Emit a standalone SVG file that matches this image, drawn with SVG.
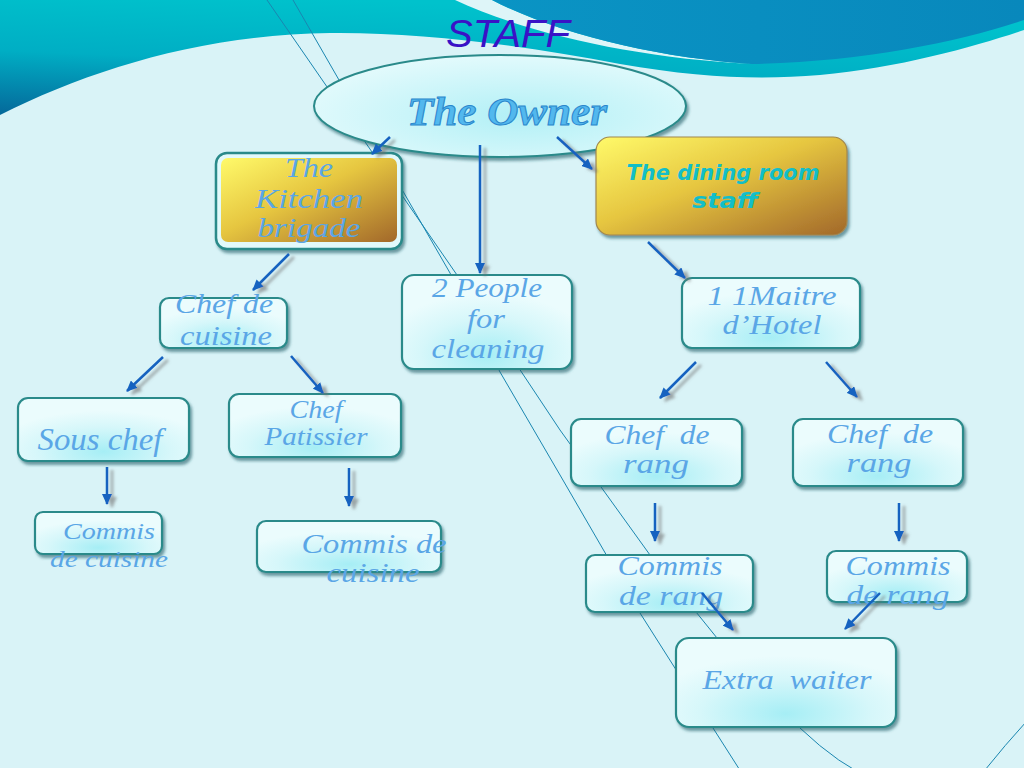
<svg xmlns="http://www.w3.org/2000/svg" width="1024" height="768" viewBox="0 0 1024 768">
<defs>
<linearGradient id="teal" x1="0" y1="1" x2="0.35" y2="0">
<stop offset="0" stop-color="#05689a"/><stop offset="0.5" stop-color="#00aec4"/><stop offset="1" stop-color="#00c2cc"/>
</linearGradient>
<linearGradient id="blue" x1="0" y1="0" x2="1" y2="0">
<stop offset="0" stop-color="#0a94c4"/><stop offset="1" stop-color="#0888bc"/>
</linearGradient>
<linearGradient id="gold" x1="0" y1="0" x2="1" y2="1">
<stop offset="0" stop-color="#fffa6a"/><stop offset="0.45" stop-color="#e6c640"/><stop offset="1" stop-color="#a2682a"/>
</linearGradient>
<radialGradient id="cyan" cx="0.5" cy="0.85" r="0.65">
<stop offset="0" stop-color="#a6eef5"/><stop offset="0.6" stop-color="#d6f7fa"/><stop offset="1" stop-color="#ebfcfd"/>
</radialGradient>
<radialGradient id="ell" cx="0.55" cy="0.6" r="0.6">
<stop offset="0" stop-color="#b2f0f6"/><stop offset="1" stop-color="#e2fafc"/>
</radialGradient>
<filter id="sh" x="-10%" y="-10%" width="130%" height="140%">
<feDropShadow dx="2" dy="3" stdDeviation="1.6" flood-color="#1a5c66" flood-opacity="0.6"/>
</filter>
<filter id="ash" x="-50%" y="-50%" width="200%" height="200%">
<feDropShadow dx="5" dy="3" stdDeviation="1.8" flood-color="#707070" flood-opacity="0.6"/>
</filter>
<marker id="ah" markerUnits="userSpaceOnUse" markerWidth="12" markerHeight="10" refX="10" refY="5" orient="auto">
<path d="M0,0 L11,5 L0,10 Z" fill="#1462c0"/>
</marker>
<style>
.box{fill:url(#cyan);stroke:#2a8a8a;stroke-width:2.2;filter:url(#sh)}
.t{font-family:"Liberation Serif","DejaVu Serif",serif;font-style:italic;fill:#5aa6e6;text-anchor:middle}
.c{stroke:#1462c0;stroke-width:2.5;fill:none;marker-end:url(#ah)}
.thin{stroke:#1a86b0;stroke-width:1;fill:none}
</style>
</defs>
<rect width="1024" height="768" fill="#d9f3f7"/>
<path d="M0,115 C90,70 200,35 330,33 C420,32 520,45 620,64 C700,78 760,80 820,75 C900,68 980,45 1024,30 V0 H0 Z" fill="url(#teal)"/>
<path d="M455,0 C530,35 640,58 752,64 C660,58 560,35 492,0 Z" fill="#def5f8"/>
<path d="M492,0 C560,35 660,58 752,64 C860,62 960,42 1024,20 V0 Z" fill="url(#blue)"/>
<path class="thin" d="M267,0 L457,275 L560,430 L650,555 L717,638 Q760,690 800,728 T875,780"/>
<path class="thin" d="M293,0 L450,273 L500,372 L560,475 L640,613 L713,728 L743,775"/>
<path class="thin" d="M985,770 Q1005,745 1026,722"/>
<text x="508" y="47" font-family="Liberation Sans, Arial, sans-serif" font-style="italic" font-size="38" fill="#3a12c6" text-anchor="middle" textLength="124" lengthAdjust="spacingAndGlyphs">STAFF</text>

<g id="owner">
<ellipse cx="500" cy="106" rx="186" ry="51" fill="url(#ell)" stroke="#2a8a8a" stroke-width="2" filter="url(#sh)"/>
<text x="507" y="125" font-family="Liberation Serif, serif" font-style="italic" font-weight="bold" font-size="40" fill="#52b8ee" stroke="#2a86cc" stroke-width="1" text-anchor="middle" textLength="200" lengthAdjust="spacingAndGlyphs">The Owner</text>
</g>
<g id="kitchen">
<rect x="216" y="153" width="186" height="96" rx="11" fill="#e2f9fb" stroke="#2a8a8a" stroke-width="2.5" filter="url(#sh)"/>
<rect x="221" y="158" width="176" height="84" rx="7" fill="url(#gold)"/>
<text class="t" x="309" y="177" font-size="27" textLength="48" lengthAdjust="spacingAndGlyphs">The</text>
<text class="t" x="309" y="208" font-size="27" textLength="108" lengthAdjust="spacingAndGlyphs">Kitchen</text>
<text class="t" x="309" y="237" font-size="27" textLength="103" lengthAdjust="spacingAndGlyphs">brigade</text>
</g>
<g id="dining">
<rect x="596" y="137" width="251" height="98" rx="14" fill="url(#gold)" stroke="#a08850" stroke-width="1.2" filter="url(#sh)"/>
<text x="723" y="180" font-family="DejaVu Sans, sans-serif" font-style="oblique" font-weight="bold" font-size="22" fill="#12bec8" text-anchor="middle" textLength="193" lengthAdjust="spacingAndGlyphs">The dining room</text>
<text x="725" y="208" font-family="DejaVu Sans, sans-serif" font-style="oblique" font-weight="bold" font-size="22" fill="#12bec8" text-anchor="middle" textLength="66" lengthAdjust="spacingAndGlyphs">staff</text>
</g>
<g id="chefcuisine">
<rect class="box" x="160" y="298" width="127" height="50" rx="9"/>
<text class="t" x="224" y="313" font-size="28" textLength="98" lengthAdjust="spacingAndGlyphs">Chef de</text>
<text class="t" x="226" y="345" font-size="28" textLength="92" lengthAdjust="spacingAndGlyphs">cuisine</text>
</g>
<g id="cleaning">
<rect class="box" x="402" y="275" width="170" height="94" rx="12"/>
<text class="t" x="487" y="297" font-size="28" textLength="110" lengthAdjust="spacingAndGlyphs">2 People</text>
<text class="t" x="486" y="328" font-size="28" textLength="38" lengthAdjust="spacingAndGlyphs">for</text>
<text class="t" x="488" y="358" font-size="28" textLength="113" lengthAdjust="spacingAndGlyphs">cleaning</text>
</g>
<g id="maitre">
<rect class="box" x="682" y="278" width="178" height="70" rx="10"/>
<text class="t" x="772" y="305" font-size="27" textLength="129" lengthAdjust="spacingAndGlyphs">1 1Maitre</text>
<text class="t" x="772" y="334" font-size="27" textLength="99" lengthAdjust="spacingAndGlyphs">d’Hotel</text>
</g>
<g id="souschef">
<rect class="box" x="18" y="398" width="171" height="63" rx="10"/>
<text class="t" x="100" y="450" font-size="31" textLength="125" lengthAdjust="spacingAndGlyphs">Sous chef</text>
</g>
<g id="patissier">
<rect class="box" x="229" y="394" width="172" height="63" rx="10"/>
<text class="t" x="316" y="418" font-size="26" textLength="53" lengthAdjust="spacingAndGlyphs">Chef</text>
<text class="t" x="316" y="445" font-size="26" textLength="103" lengthAdjust="spacingAndGlyphs">Patissier</text>
</g>
<g id="commis1">
<rect class="box" x="35" y="512" width="127" height="42" rx="8"/>
<text class="t" x="109" y="539" font-size="24" textLength="92" lengthAdjust="spacingAndGlyphs">Commis</text>
<text class="t" x="109" y="567" font-size="24" textLength="118" lengthAdjust="spacingAndGlyphs">de cuisine</text>
</g>
<g id="commis2">
<rect class="box" x="257" y="521" width="184" height="51" rx="9"/>
<text class="t" x="374" y="553" font-size="28" textLength="145" lengthAdjust="spacingAndGlyphs">Commis de</text>
<text class="t" x="373" y="582" font-size="28" textLength="93" lengthAdjust="spacingAndGlyphs">cuisine</text>
</g>
<g id="rang1">
<rect class="box" x="571" y="419" width="171" height="67" rx="10"/>
<text class="t" x="657" y="444" font-size="28" textLength="105" lengthAdjust="spacingAndGlyphs" xml:space="preserve">Chef  de</text>
<text class="t" x="656" y="473" font-size="28" textLength="66" lengthAdjust="spacingAndGlyphs">rang</text>
</g>
<g id="rang2">
<rect class="box" x="793" y="419" width="170" height="67" rx="10"/>
<text class="t" x="880" y="443" font-size="28" textLength="106" lengthAdjust="spacingAndGlyphs" xml:space="preserve">Chef  de</text>
<text class="t" x="879" y="472" font-size="28" textLength="65" lengthAdjust="spacingAndGlyphs">rang</text>
</g>
<g id="commisrang1">
<rect class="box" x="586" y="555" width="167" height="57" rx="9"/>
<text class="t" x="670" y="575" font-size="28" textLength="105" lengthAdjust="spacingAndGlyphs">Commis</text>
<text class="t" x="671" y="605" font-size="28" textLength="104" lengthAdjust="spacingAndGlyphs">de rang</text>
</g>
<g id="commisrang2">
<rect class="box" x="827" y="551" width="140" height="51" rx="9"/>
<text class="t" x="898" y="575" font-size="27" textLength="105" lengthAdjust="spacingAndGlyphs">Commis</text>
<text class="t" x="898" y="604" font-size="27" textLength="103" lengthAdjust="spacingAndGlyphs">de rang</text>
</g>
<g id="extra">
<rect class="box" x="676" y="638" width="220" height="89" rx="13"/>
<text class="t" x="787" y="689" font-size="27" textLength="169" lengthAdjust="spacingAndGlyphs" xml:space="preserve">Extra  waiter</text>
</g>

<g id="connectors" filter="url(#ash)">
<line class="c" x1="390" y1="137" x2="372" y2="154"/>
<line class="c" x1="480" y1="145" x2="480" y2="273"/>
<line class="c" x1="557" y1="137" x2="592" y2="169"/>
<line class="c" x1="289" y1="254" x2="253" y2="290"/>
<line class="c" x1="163" y1="357" x2="127" y2="391"/>
<line class="c" x1="291" y1="356" x2="323" y2="393"/>
<line class="c" x1="107" y1="467" x2="107" y2="504"/>
<line class="c" x1="349" y1="468" x2="349" y2="506"/>
<line class="c" x1="648" y1="242" x2="685" y2="278"/>
<line class="c" x1="696" y1="362" x2="660" y2="398"/>
<line class="c" x1="826" y1="362" x2="857" y2="397"/>
<line class="c" x1="655" y1="503" x2="655" y2="541"/>
<line class="c" x1="899" y1="503" x2="899" y2="541"/>
<line class="c" x1="702" y1="593" x2="733" y2="630"/>
<line class="c" x1="880" y1="593" x2="845" y2="629"/>
</g>
</svg>
